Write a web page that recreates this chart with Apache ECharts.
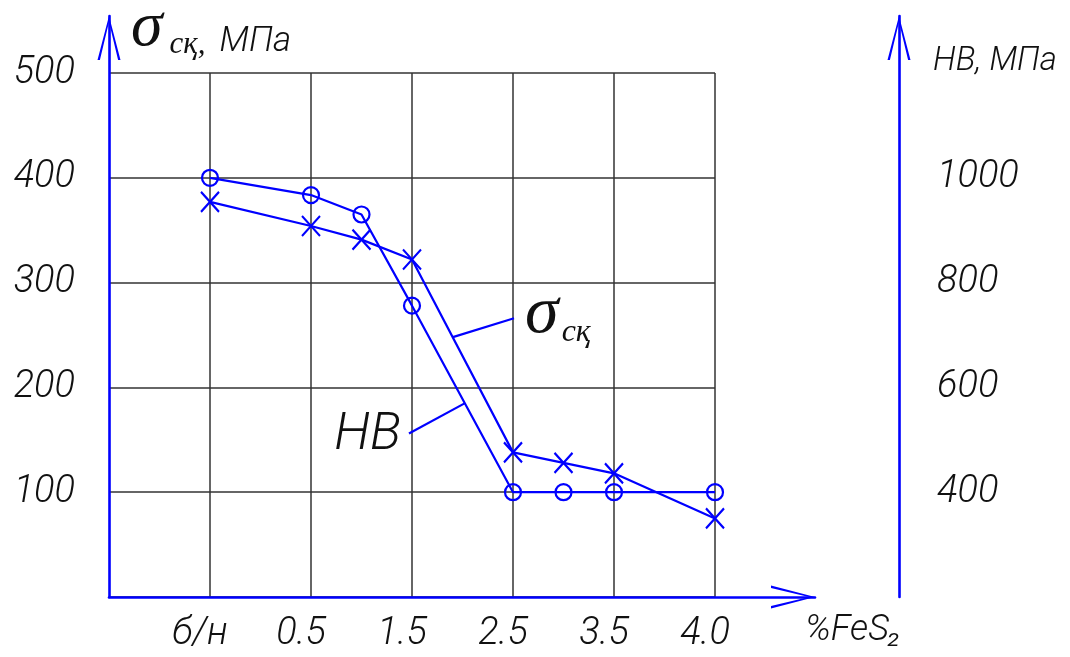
<!DOCTYPE html>
<html>
<head>
<meta charset="utf-8">
<script src="https://cdn.jsdelivr.net/npm/echarts@6/dist/echarts.min.js"></script>
<style>
  html, body { margin: 0; padding: 0; background: #ffffff; }
  #chart { width: 1070px; height: 657px; }
</style>
</head>
<body>
<div id="chart"></div>
<script>
// Composition slots along the %FeS2 axis: each grid column is split in two half-steps
const slots = ['', '', 'б/н', '', '0.5', '1.0', '1.5', '', '2.5', '3.0', '3.5', '', '4.0'];
// Columns that carry a grid line and a label
const tickLabels = ['б/н', '0.5', '1.5', '2.5', '3.5', '4.0'];

// Measured samples
const samples = ['б/н', '0.5', '1.0', '1.5', '2.5', '3.0', '3.5', '4.0'];
const sigmaValues = [377, 354, 341, 322, 138, 128, 118, 75];   // σсқ, МПа (crosses)
const hbValues = [1000, 967, 930, 756, 400, 400, 400, 400];    // HB, МПа (circles)

// Axis scales
const sigmaAxis = { min: 0, max: 500, step: 100 };
const hbAxis = { min: 200, max: 1200, step: 200 };

const BLUE = '#0000ff';
const INK = '#111111';
const GRID = '#333333';
const GOST = "Roboto, 'DejaVu Sans Condensed', sans-serif";
const SERIF = "'Liberation Serif', 'DejaVu Serif', serif";

// Open chevron used as the arrow head of every axis
const ARROW = 'path://M11.5 0L23 44L20.6 44L11.5 6L2.4 44L0 44Z';
const CROSS = 'path://M0 0L18 20M18 0L0 20';

const labelFont = { fontFamily: GOST, fontStyle: 'italic', fontWeight: 300, fontSize: 38, color: INK };

function arrowLine() {
  return {
    show: true,
    symbol: ['none', ARROW],
    symbolSize: [23, 44],
    symbolOffset: [0, -22],
    lineStyle: { color: BLUE, width: 2.6 }
  };
}

const plain = v => String(v);

const chart = echarts.init(document.getElementById('chart'), null, { renderer: 'canvas' });

chart.setOption({
  animation: false,
  backgroundColor: '#ffffff',
  grid: [
    { left: 109, top: 73, width: 606, height: 524, outerBoundsMode: 'none' },
    { left: 109, top: 16, width: 706, height: 581, outerBoundsMode: 'none' }
  ],
  xAxis: [
    {
      gridIndex: 0,
      type: 'category',
      data: slots,
      boundaryGap: false,
      axisLine: { show: false },
      axisTick: { show: false },
      axisLabel: Object.assign({
        interval: (i, v) => tickLabels.includes(v),
        margin: 18,
        padding: [0, 20, 0, 0]
      }, labelFont),
      splitLine: {
        show: true,
        interval: (i, v) => tickLabels.includes(v),
        lineStyle: { color: GRID, width: 1.5 }
      }
    },
    {
      gridIndex: 1,
      type: 'value',
      min: 0, max: 1,
      z: 5,
      axisLine: arrowLine(),
      axisTick: { show: false },
      axisLabel: { show: false },
      splitLine: { show: false },
      name: '%FeS₂',
      nameLocation: 'end',
      nameGap: -10,
      nameTextStyle: Object.assign({}, labelFont, {
        fontSize: 36, align: 'left', verticalAlign: 'top', padding: [16, 0, 0, 0]
      })
    }
  ],
  yAxis: [
    {
      gridIndex: 0,
      type: 'value',
      min: sigmaAxis.min, max: sigmaAxis.max, interval: sigmaAxis.step,
      position: 'left',
      axisLine: { show: false },
      axisTick: { show: false },
      axisLabel: Object.assign({ showMinLabel: false, margin: 34, formatter: plain }, labelFont),
      splitLine: { show: true, lineStyle: { color: GRID, width: 1.5 } }
    },
    {
      gridIndex: 0,
      type: 'value',
      min: hbAxis.min, max: hbAxis.max, interval: hbAxis.step,
      position: 'right',
      offset: 184,
      axisLine: { show: false },
      axisTick: { show: false },
      axisLabel: Object.assign({ showMinLabel: false, showMaxLabel: false, margin: 38, formatter: plain }, labelFont),
      splitLine: { show: false }
    },
    {
      gridIndex: 1,
      type: 'value',
      min: 0, max: 1,
      position: 'left',
      z: 5,
      axisLine: arrowLine(),
      axisTick: { show: false },
      axisLabel: { show: false },
      splitLine: { show: false },
      name: '{s|σ}{sub|сқ,}{u|МПа}',
      nameLocation: 'end',
      nameGap: -12,
      nameTextStyle: {
        align: 'left', verticalAlign: 'middle', padding: [0, 0, 0, 22],
        rich: {
          s: { fontFamily: SERIF, fontStyle: 'italic', fontSize: 64, color: INK, verticalAlign: 'bottom', lineHeight: 64 },
          sub: { fontFamily: SERIF, fontStyle: 'italic', fontSize: 31, color: INK, verticalAlign: 'bottom', lineHeight: 42, padding: [0, 4, 0, 7] },
          u: { fontFamily: GOST, fontStyle: 'italic', fontWeight: 300, fontSize: 35, color: INK, verticalAlign: 'bottom', lineHeight: 38, padding: [0, 0, 0, 10] }
        }
      }
    },
    {
      gridIndex: 1,
      type: 'value',
      min: 0, max: 1,
      position: 'right',
      offset: 84,
      z: 5,
      axisLine: arrowLine(),
      axisTick: { show: false },
      axisLabel: { show: false },
      splitLine: { show: false },
      name: 'HB, МПа',
      nameLocation: 'end',
      nameGap: -46,
      nameTextStyle: Object.assign({}, labelFont, {
        fontSize: 33, align: 'left', verticalAlign: 'middle', padding: [0, 0, 0, 34]
      })
    }
  ],
  series: [
    {
      name: 'σсқ',
      type: 'line',
      xAxisIndex: 0,
      yAxisIndex: 0,
      data: samples.map((s, i) => [s, sigmaValues[i]]),
      symbol: CROSS,
      symbolSize: [18, 20],
      showSymbol: true,
      clip: false,
      lineStyle: { color: BLUE, width: 2.2 },
      itemStyle: { color: 'rgba(0,0,0,0)', borderColor: BLUE, borderWidth: 2.2 },
      z: 4
    },
    {
      name: 'HB',
      type: 'line',
      xAxisIndex: 0,
      yAxisIndex: 1,
      data: samples.map((s, i) => [s, hbValues[i]]),
      symbol: 'circle',
      symbolSize: 16,
      showSymbol: true,
      clip: false,
      lineStyle: { color: BLUE, width: 2.2 },
      itemStyle: { color: 'rgba(0,0,0,0)', borderColor: BLUE, borderWidth: 2.2 },
      z: 4
    }
  ]
});

// Curve captions with leader lines, placed in plot units (slot position, σ value)
const notes = [
  { leader: [[6.81, 248], [8.02, 266]], label: [8.24, 237], align: 'left',
    text: '{s|σ}{sub|сқ}' },
  { leader: [[5.94, 156], [7.05, 185]], label: [5.78, 129], align: 'right',
    text: '{h|HB}' }
];

function toPixel(pos) {
  const i0 = Math.floor(pos[0]);
  const f = pos[0] - i0;
  const a = chart.convertToPixel({ gridIndex: 0 }, [i0, pos[1]]);
  const b = chart.convertToPixel({ gridIndex: 0 }, [i0 + 1, pos[1]]);
  return [a[0] + (b[0] - a[0]) * f, a[1]];
}

const graphics = [];
notes.forEach(n => {
  const p1 = toPixel(n.leader[0]);
  const p2 = toPixel(n.leader[1]);
  graphics.push({
    type: 'line', silent: true, z: 10,
    shape: { x1: p1[0], y1: p1[1], x2: p2[0], y2: p2[1] },
    style: { stroke: BLUE, lineWidth: 2.2 }
  });
  const t = toPixel(n.label);
  graphics.push({
    type: 'text', silent: true, z: 10,
    x: t[0], y: t[1],
    style: {
      text: n.text,
      align: n.align,
      verticalAlign: 'bottom',
      rich: {
        s: { fontFamily: SERIF, fontStyle: 'italic', fontSize: 68, fill: INK, verticalAlign: 'bottom', lineHeight: 60 },
        sub: { fontFamily: SERIF, fontStyle: 'italic', fontSize: 32, fill: INK, verticalAlign: 'bottom', lineHeight: 36, padding: [0, 0, 0, 3] },
        h: { fontFamily: GOST, fontStyle: 'italic', fontWeight: 300, fontSize: 52, fill: INK, verticalAlign: 'bottom', lineHeight: 52 }
      }
    }
  });
});
chart.setOption({ graphic: graphics });
</script>
</body>
</html>
